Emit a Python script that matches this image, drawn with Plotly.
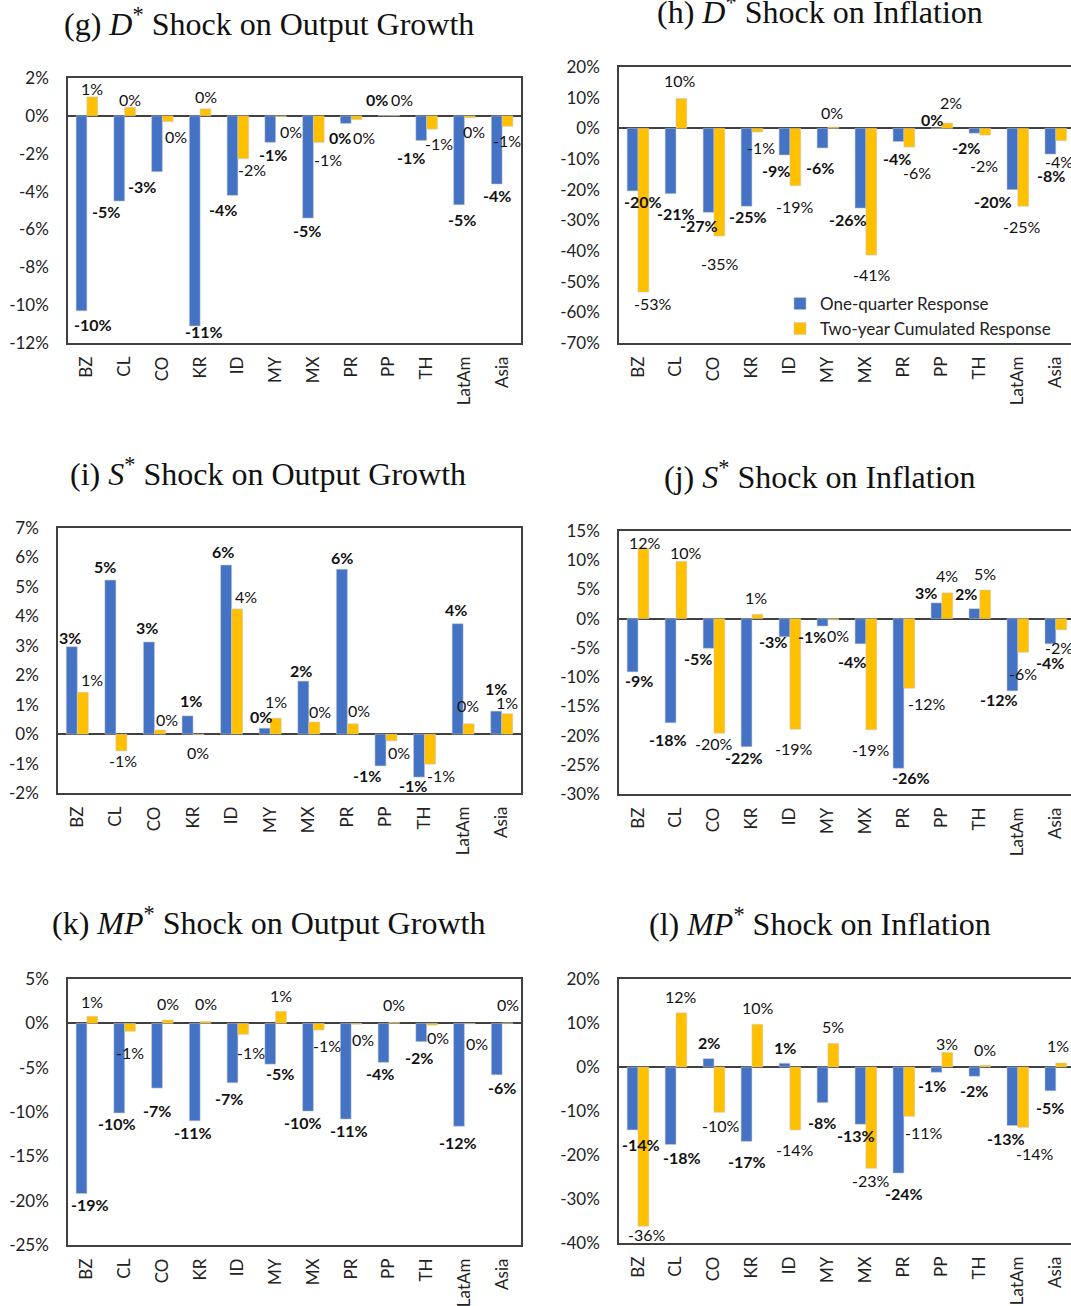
import math
import plotly.graph_objects as go

# Countries / regional aggregates on the category axis
countries = ["BZ", "CL", "CO", "KR", "ID", "MY", "MX", "PR", "PP", "TH", "LatAm", "Asia"]

# (g) D* shock on output growth (%)
g_quarter = [-10.3, -4.5, -2.95, -11.1, -4.2, -1.4, -5.4, -0.4, 0.02, -1.3, -4.7, -3.6]
g_cumul = [1.0, 0.45, -0.3, 0.37, -2.26, -0.05, -1.4, -0.2, 0.02, -0.7, -0.1, -0.55]

# (h) D* shock on inflation (%)
h_quarter = [-20.4, -21.3, -27.4, -25.4, -8.7, -6.4, -26.0, -4.3, 0.1, -1.6, -20.0, -8.4]
h_cumul = [-53.4, 9.7, -35.1, -1.2, -18.7, 0.4, -41.3, -6.1, 1.7, -2.2, -25.4, -4.0]

# (i) S* shock on output growth (%)
i_quarter = [2.97, 5.23, 3.13, 0.62, 5.74, 0.2, 1.8, 5.6, -1.08, -1.46, 3.75, 0.78]
i_cumul = [1.42, -0.57, 0.14, -0.02, 4.25, 0.54, 0.41, 0.35, -0.23, -1.02, 0.35, 0.69]

# (j) S* shock on inflation (%)
j_quarter = [-9.1, -17.8, -5.07, -21.9, -3.1, -1.26, -4.3, -25.6, 2.7, 1.7, -12.35, -4.3]
j_cumul = [12.05, 9.8, -19.6, 0.74, -18.9, -0.2, -19.0, -11.9, 4.4, 4.9, -5.75, -1.9]

# (k) MP* shock on output growth (%)
k_quarter = [-19.2, -10.1, -7.3, -11.0, -6.7, -4.6, -9.9, -10.8, -4.4, -2.06, -11.6, -5.8]
k_cumul = [0.79, -0.9, 0.38, 0.2, -1.24, 1.35, -0.75, -0.1, 0.1, -0.2, -0.05, 0.05]

# (l) MP* shock on inflation (%)
l_quarter = [-14.3, -17.6, 1.9, -16.9, 0.84, -8.1, -13.0, -24.1, -1.2, -2.1, -13.3, -5.4]
l_cumul = [-36.2, 12.3, -10.3, 9.7, -14.3, 5.36, -23.0, -11.2, 3.3, 0.4, -13.7, 0.9]

# Panel titles
titles = [
    "(g) <i>D</i><sup>*</sup> Shock on Output Growth",
    "(h) <i>D</i><sup>*</sup> Shock on Inflation",
    "(i) <i>S</i><sup>*</sup> Shock on Output Growth",
    "(j) <i>S</i><sup>*</sup> Shock on Inflation",
    "(k) <i>MP</i><sup>*</sup> Shock on Output Growth",
    "(l) <i>MP</i><sup>*</sup> Shock on Inflation",
]

# y-axis ranges / tick steps per panel
y_ranges = [(-12, 2, 2), (-70, 20, 10), (-2, 7, 1), (-30, 15, 5), (-25, 5, 5), (-40, 20, 10)]

series_names = ["One-quarter Response", "Two-year Cumulated Response"]

W, H = 1071, 1306
BLUE = "#4472C4"
GOLD = "#FFC000"
AXIS = "#404040"
SANS = "Lato"
SERIF = "Liberation Serif"
BARGAP = 0.43

# pixel boxes of each plotting frame: (left, right, top, bottom)
frames = [
    (68, 521, 78, 343),
    (619, 1071, 67, 343),
    (58, 521, 528, 793),
    (619, 1071, 531, 794),
    (68, 521, 979, 1245),
    (619, 1071, 979, 1243),
]
# title centres in pixels
title_pos = [(269, 22), (820, 10), (268, 472), (820, 475), (268, 921), (820, 922)]

# hand-placed nudges of the value labels, (dx, dy) in px, dy positive = down;
# per panel: one-quarter labels, then two-year labels
label_nudge = [
    ([(11, 4), (-13, 0), (-15, 5), (9, -4), (-10, 4), (3, 2), (-1, 2), (-6, 4), (-7, -6), (-10, 7), (3, 5), (0, 2)],
     [(0, 2), (0, 2), (8, 5), (0, -2), (9, 1), (10, 5), (9, 7), (7, 8), (8, -6), (7, 4), (4, 4), (-1, 4)]),
    ([(10, 1), (5, 10), (-10, 3), (1, 0), (-9, 5), (-2, 10), (-12, 1), (-1, 7), (-4, 1), (-8, 4), (-19, 2), (1, 11)],
     [(10, 1), (-1, -8), (1, 18), (4, 5), (0, 11), (-1, -5), (1, 10), (8, 15), (4, -11), (-1, 20), (-1, 10), (-2, 11)]),
    ([(-2, 1), (-5, -4), (-2, -4), (3, -5), (-3, -4), (-4, -2), (-2, -1), (0, -2), (-13, 0), (-6, -2), (-2, -4), (0, -13)],
     [(9, -3), (2, 0), (7, 0), (-1, 8), (9, -2), (0, -7), (6, -1), (6, -3), (8, 2), (11, 1), (-1, -8), (0, -1)]),
    ([(6, -1), (-3, 7), (-11, 0), (-3, 1), (-12, -5), (-10, 0), (-8, 8), (13, -1), (-10, 0), (-8, -5), (-13, -1), (0, 9)],
     [(2, 4), (5, 1), (-5, 0), (-1, -7), (-1, 9), (5, 6), (0, 10), (18, 5), (0, -7), (0, -7), (0, 11), (-2, 8)]),
    ([(8, 1), (-2, 1), (0, 12), (-2, 2), (-4, 6), (10, -1), (-5, 1), (3, 1), (-4, 1), (-2, 6), (-1, 6), (5, 3)],
     [(0, -5), (0, 11), (0, -6), (0, -8), (8, 8), (0, -6), (8, 6), (6, 5), (0, -8), (6, 2), (7, 10), (0, -8)]),
    ([(8, 5), (11, 3), (0, -6), (0, 10), (0, -6), (0, 10), (-4, 1), (6, 10), (-4, 3), (0, 4), (-6, 3), (0, 7)],
     [(4, -2), (0, -6), (2, 3), (1, -7), (0, 10), (0, -7), (0, 2), (15, 6), (0, 1), (0, -6), (12, 16), (-3, -8)]),
]


def pct_label(v):
    r = math.floor(abs(v) + 0.5)
    if r == 0:
        return "0%"
    return ("-" if v < 0 else "") + f"{r}%"


panels = [
    (g_quarter, g_cumul), (h_quarter, h_cumul),
    (i_quarter, i_cumul), (j_quarter, j_cumul),
    (k_quarter, k_cumul), (l_quarter, l_cumul),
]

fig = go.Figure()
layout = {}
annotations = []

for idx, (quarter, cumul) in enumerate(panels):
    n = idx + 1
    xa = "x" if n == 1 else f"x{n}"
    ya = "y" if n == 1 else f"y{n}"
    xkey = "xaxis" if n == 1 else f"xaxis{n}"
    ykey = "yaxis" if n == 1 else f"yaxis{n}"
    left, right, top, bottom = frames[idx]
    show_leg = idx == 1

    # right-hand panels run slightly past the window edge
    x_hi = 11.5 if right < 1071 else 11.4
    cat_px = (right - left) / (x_hi + 0.5)
    half_bar = cat_px * (1 - BARGAP) / 4

    for s, (vals, name, color, bold) in enumerate([
        (quarter, series_names[0], BLUE, True),
        (cumul, series_names[1], GOLD, False),
    ]):
        fig.add_trace(go.Bar(
            x=countries, y=vals, name=name,
            marker=dict(color=color, line=dict(color="rgba(200,200,200,0.9)", width=0.6)),
            xaxis=xa, yaxis=ya,
            showlegend=show_leg, legendgroup=name,
            hoverinfo="skip",
        ))
        # value labels beyond the end of each bar, drawn above all bars
        nudges = label_nudge[idx][s]
        for c, v, (dx, dy) in zip(countries, vals, nudges):
            pos = v >= 0
            annotations.append(dict(
                text=pct_label(v), x=c, y=v, xref=xa, yref=ya,
                xanchor="center", yanchor="bottom" if pos else "top",
                xshift=(-half_bar if s == 0 else half_bar) + dx,
                yshift=(-1.5 - dy) if pos else (1.5 - dy),
                showarrow=False,
                font=dict(family=SANS, size=16, color="#111111",
                          weight="bold" if bold else "normal"),
            ))

    lo, hi, step = y_ranges[idx]
    tv = list(range(lo, hi + 1, step))
    layout[xkey] = dict(
        domain=[left / W, right / W], anchor=ya, automargin=False,
        range=[-0.5, x_hi], type="category",
        showline=True, mirror=True, linecolor=AXIS, linewidth=1.5,
        showgrid=False, ticks="", tickangle=-90, ticklabelstandoff=5,
        tickfont=dict(family=SANS, size=17, color="#222222"),
    )
    layout[ykey] = dict(
        domain=[1 - bottom / H, 1 - top / H], anchor=xa, automargin=False,
        range=[lo, hi], tickvals=tv, ticktext=[f"{v}%" for v in tv],
        showline=True, mirror=True, linecolor=AXIS, linewidth=1.5,
        showgrid=False, zeroline=True, zerolinecolor=AXIS, zerolinewidth=1.5,
        ticks="", ticklen=0, ticklabelstandoff=14,
        tickfont=dict(family=SANS, size=17, color="#222222"),
    )

    tx, ty = title_pos[idx]
    annotations.append(dict(
        text=titles[idx], x=tx / W, y=1 - ty / H, xref="paper", yref="paper",
        xanchor="center", yanchor="middle", showarrow=False,
        font=dict(family=SERIF, size=32, color="#111111"),
    ))

fig.update_layout(
    template="none",
    width=W, height=H,
    margin=dict(l=0, r=0, t=0, b=0, pad=0),
    paper_bgcolor="white", plot_bgcolor="white",
    barmode="group", bargap=BARGAP, bargroupgap=0.0,
    annotations=annotations,
    legend=dict(
        x=780 / W, y=1 - 286 / H, xanchor="left", yanchor="top",
        bgcolor="rgba(0,0,0,0)", font=dict(family=SANS, size=17, color="#222222"),
        itemwidth=30, tracegroupgap=0,
    ),
    **layout,
)

fig.write_html("out.html")
